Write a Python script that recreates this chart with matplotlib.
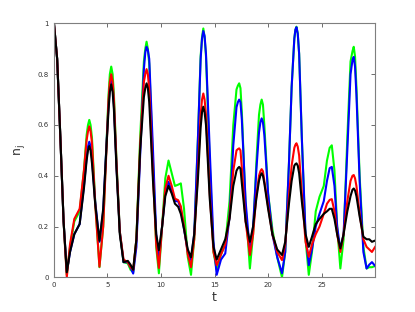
import matplotlib.pyplot as plt

# tempos de amostragem (leitura do grafico)
t = [0, 0.3, 0.6, 0.9, 1.2, 1.5, 1.9, 2.4, 2.8, 3.05,
     3.18, 3.3, 3.42, 3.55, 3.85, 4.25, 4.6, 4.9, 5.1, 5.22,
     5.35, 5.48, 5.6, 5.85, 6.15, 6.5, 6.9, 7.15, 7.4, 7.7,
     8.05, 8.4, 8.53, 8.65, 8.77, 8.9, 9.25, 9.55, 9.8, 10.1,
     10.4, 10.7, 11.0, 11.3, 11.6, 11.85, 12.15, 12.5, 12.8, 13.1,
     13.45, 13.7, 13.83, 13.95, 14.07, 14.2, 14.55, 14.9, 15.2, 15.6,
     16.0, 16.4, 16.75, 17.05, 17.18, 17.3, 17.42, 17.55, 17.9, 18.3,
     18.6, 18.9, 19.15, 19.28, 19.4, 19.52, 19.65, 20.0, 20.4, 20.85,
     21.3, 21.6, 21.95, 22.2, 22.45, 22.55, 22.65, 22.77, 22.9, 23.15,
     23.5, 23.8, 24.1, 24.45, 24.8, 25.2, 25.5, 25.75, 25.95, 26.2,
     26.45, 26.75, 27.05, 27.4, 27.7, 27.88, 28.0, 28.12, 28.25, 28.55,
     28.9, 29.2, 29.45, 29.7, 30.0]

green = [1.0, 0.86, 0.55, 0.22, 0.01, 0.12, 0.22, 0.26, 0.42, 0.56,
         0.60, 0.62, 0.60, 0.55, 0.30, 0.04, 0.20, 0.52, 0.72, 0.80,
         0.83, 0.80, 0.72, 0.45, 0.18, 0.06, 0.055, 0.03, 0.02, 0.15,
         0.55, 0.85, 0.90, 0.928, 0.90, 0.84, 0.45, 0.12, 0.016, 0.20,
         0.39, 0.46, 0.41, 0.36, 0.365, 0.37, 0.27, 0.08, 0.01, 0.15,
         0.55, 0.87, 0.945, 0.98, 0.945, 0.87, 0.45, 0.10, 0.03, 0.09,
         0.13, 0.30, 0.60, 0.74, 0.755, 0.764, 0.745, 0.65, 0.28, 0.035,
         0.17, 0.45, 0.64, 0.68, 0.70, 0.68, 0.60, 0.33, 0.19, 0.08,
         0.0, 0.10, 0.45, 0.75, 0.94, 0.975, 0.987, 0.96, 0.88, 0.55,
         0.15, 0.01, 0.10, 0.26, 0.317, 0.36, 0.46, 0.51, 0.52, 0.42,
         0.20, 0.035, 0.15, 0.55, 0.85, 0.89, 0.908, 0.87, 0.75, 0.40,
         0.12, 0.035, 0.04, 0.04, 0.045]

blue = [1.0, 0.86, 0.55, 0.22, 0.02, 0.10, 0.17, 0.21, 0.36, 0.47,
        0.515, 0.534, 0.515, 0.47, 0.30, 0.14, 0.26, 0.52, 0.68, 0.75,
        0.78, 0.75, 0.68, 0.43, 0.18, 0.06, 0.06, 0.04, 0.015, 0.12,
        0.48, 0.82, 0.885, 0.908, 0.895, 0.86, 0.50, 0.17, 0.07, 0.20,
        0.33, 0.376, 0.34, 0.30, 0.30, 0.27, 0.19, 0.10, 0.068, 0.17,
        0.55, 0.86, 0.94, 0.97, 0.95, 0.88, 0.50, 0.14, 0.01, 0.07,
        0.094, 0.24, 0.52, 0.67, 0.69, 0.70, 0.69, 0.62, 0.30, 0.10,
        0.20, 0.42, 0.57, 0.61, 0.626, 0.61, 0.56, 0.33, 0.17, 0.08,
        0.016, 0.10, 0.45, 0.75, 0.94, 0.975, 0.985, 0.96, 0.88, 0.55,
        0.17, 0.048, 0.11, 0.20, 0.25, 0.30, 0.38, 0.43, 0.435, 0.36,
        0.20, 0.11, 0.17, 0.50, 0.80, 0.855, 0.868, 0.83, 0.72, 0.38,
        0.10, 0.035, 0.05, 0.06, 0.045]

red = [1.0, 0.86, 0.55, 0.22, 0.0, 0.13, 0.23, 0.27, 0.42, 0.54,
       0.575, 0.595, 0.575, 0.53, 0.29, 0.042, 0.20, 0.50, 0.70, 0.77,
       0.80, 0.77, 0.70, 0.44, 0.18, 0.07, 0.06, 0.04, 0.03, 0.15,
       0.52, 0.77, 0.80, 0.82, 0.80, 0.74, 0.40, 0.13, 0.037, 0.20,
       0.35, 0.40, 0.36, 0.31, 0.304, 0.28, 0.20, 0.09, 0.04, 0.15,
       0.42, 0.64, 0.70, 0.724, 0.70, 0.64, 0.33, 0.10, 0.048, 0.09,
       0.13, 0.24, 0.42, 0.50, 0.505, 0.508, 0.50, 0.43, 0.22, 0.088,
       0.17, 0.32, 0.40, 0.418, 0.426, 0.418, 0.38, 0.28, 0.17, 0.10,
       0.068, 0.13, 0.32, 0.44, 0.51, 0.522, 0.528, 0.515, 0.48, 0.33,
       0.14, 0.081, 0.13, 0.17, 0.20, 0.25, 0.29, 0.305, 0.308, 0.26,
       0.17, 0.10, 0.17, 0.30, 0.38, 0.40, 0.403, 0.39, 0.36, 0.25,
       0.15, 0.12, 0.11, 0.10, 0.12]

black = [1.0, 0.86, 0.55, 0.22, 0.02, 0.10, 0.17, 0.21, 0.35, 0.46,
         0.50, 0.517, 0.50, 0.45, 0.29, 0.144, 0.27, 0.51, 0.66, 0.73,
         0.76, 0.73, 0.66, 0.42, 0.17, 0.06, 0.065, 0.05, 0.03, 0.15,
         0.50, 0.71, 0.745, 0.764, 0.745, 0.69, 0.38, 0.17, 0.107, 0.20,
         0.32, 0.36, 0.33, 0.29, 0.278, 0.25, 0.19, 0.11, 0.079, 0.17,
         0.39, 0.59, 0.65, 0.672, 0.65, 0.60, 0.31, 0.12, 0.07, 0.11,
         0.15, 0.23, 0.36, 0.42, 0.43, 0.435, 0.428, 0.37, 0.22, 0.14,
         0.20, 0.31, 0.38, 0.40, 0.41, 0.40, 0.37, 0.27, 0.17, 0.11,
         0.088, 0.14, 0.29, 0.38, 0.44, 0.446, 0.449, 0.44, 0.41, 0.30,
         0.17, 0.12, 0.16, 0.21, 0.23, 0.25, 0.26, 0.27, 0.27, 0.23,
         0.17, 0.114, 0.17, 0.26, 0.32, 0.345, 0.35, 0.342, 0.32, 0.24,
         0.16, 0.15, 0.15, 0.14, 0.145]

fig = plt.figure(figsize=(4.15, 3.12), dpi=100)
ax = fig.add_axes([0.130, 0.111, 0.774, 0.814])

ax.plot(t, green, color='#00ff00', lw=1.5)
ax.plot(t, blue, color='#0000ff', lw=1.5)
ax.plot(t, red, color='#ff0000', lw=1.5)
ax.plot(t, black, color='black', lw=1.5)

ax.set_xlim(0, 30)
ax.set_ylim(0, 1)
ax.set_xticks([0, 5, 10, 15, 20, 25])
ax.set_yticks([0, 0.2, 0.4, 0.6, 0.8, 1])
ax.set_yticklabels(['0', '0.2', '0.4', '0.6', '0.8', '1'])
ax.tick_params(direction='in', length=3, width=0.6, colors='#555555',
               labelsize=5, top=True, right=True, labelcolor='#333333')
for s in ax.spines.values():
    s.set_color('#7f7f7f')
    s.set_linewidth(0.8)

ax.set_xlabel('t', fontsize=9, color='#333333', labelpad=2)
ax.set_ylabel('n$_\\mathregular{j}$', fontsize=9, color='#333333', labelpad=8)

fig.savefig('out.png', dpi=100)
